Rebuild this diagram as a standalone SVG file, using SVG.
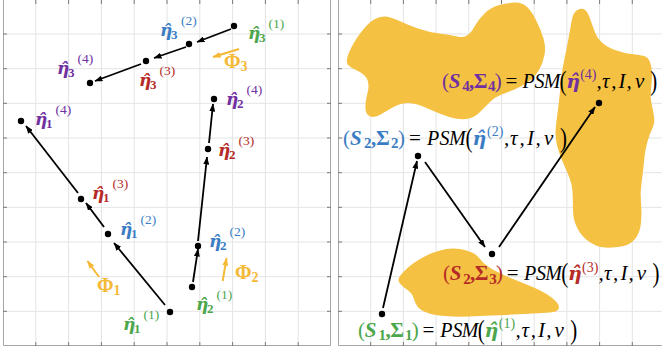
<svg xmlns="http://www.w3.org/2000/svg" width="662" height="351" viewBox="0 0 662 351">
<style>
.g{stroke:#e4e4e4;stroke-width:1;fill:none}
.ax{stroke:#a6a6a6;stroke-width:1;fill:none}
.tk{stroke:#7a7a7a;stroke-width:1;fill:none}
.blob{fill:#F5C142}
.ar{stroke:#000;stroke-width:1.8;fill:none;marker-end:url(#ah)}
.oa{stroke:#F5B936;stroke-width:2;fill:none;marker-end:url(#oh)}
.dot{fill:#000}
text{font-family:"Liberation Serif","DejaVu Serif",serif}
.e{font-family:"DejaVu Serif",serif;font-size:17px;font-weight:bold;font-style:italic}
.re{font-family:"DejaVu Serif",serif;font-size:19px;font-weight:bold;font-style:italic}
.s{font-size:13px;font-weight:bold}
.p{font-size:13.5px}
.c1{fill:#4CA64C}.c2{fill:#3B7DC4}.c3{fill:#B52B27}.c4{fill:#7030A0}.co{fill:#F5B936}.k{fill:#000}
.m{font-size:21px}
.bi{font-weight:bold;font-style:italic}
.b{font-weight:bold}
.it{font-style:italic}
.psm{font-size:20px;font-style:italic}
.ms{font-size:15px;font-weight:bold}
.mp{font-size:14px}
.bp{font-size:21px}
.phi{font-size:20px;font-weight:bold}
.phs{font-size:14px;font-weight:bold}
</style>
<defs>
<marker id="ah" markerWidth="8" markerHeight="6" refX="7.5" refY="3" orient="auto" markerUnits="userSpaceOnUse"><path d="M0,0 L8,3 L0,6 z" fill="#000"/></marker>
<marker id="oh" markerWidth="8" markerHeight="6" refX="7.5" refY="3" orient="auto" markerUnits="userSpaceOnUse"><path d="M0,0 L8,3 L0,6 z" fill="#F5B936"/></marker>
</defs>
<g id="grid">
<path class="g" d="M35.8,0V346M68.6,0V346M101.4,0V346M134.2,0V346M167,0V346M199.8,0V346M232.6,0V346M265.4,0V346M298.2,0V346M3,34H331M3,68.7H331M3,103.3H331M3,138H331M3,172.7H331M3,207.3H331M3,242H331M3,276.7H331M3,311.3H331"/>
<path class="g" d="M370.7,0V346M403.4,0V346M436.1,0V346M468.8,0V346M501.5,0V346M534.2,0V346M566.9,0V346M599.6,0V346M632.3,0V346M338,34H662M338,68.7H662M338,103.3H662M338,138H662M338,172.7H662M338,207.3H662M338,242H662M338,276.7H662M338,311.3H662"/>
<path class="ax" d="M3.5,0V345.5H330.5V0M338.5,0V345.5H662"/>
<path class="tk" d="M3,34h4M3,68.7h4M3,103.3h4M3,138h4M3,172.7h4M3,207.3h4M3,242h4M3,276.7h4M3,311.3h4M331,34h-4M331,68.7h-4M331,103.3h-4M331,138h-4M331,172.7h-4M331,207.3h-4M331,242h-4M331,276.7h-4M331,311.3h-4M35.8,346v-4M68.6,346v-4M101.4,346v-4M134.2,346v-4M167,346v-4M199.8,346v-4M232.6,346v-4M265.4,346v-4M298.2,346v-4M35.8,0v4M68.6,0v4M101.4,0v4M134.2,0v4M167,0v4M199.8,0v4M232.6,0v4M265.4,0v4M298.2,0v4"/>
<path class="tk" d="M338,34h4M338,68.7h4M338,103.3h4M338,138h4M338,172.7h4M338,207.3h4M338,242h4M338,276.7h4M338,311.3h4M370.7,346v-4M403.4,346v-4M436.1,346v-4M468.8,346v-4M501.5,346v-4M534.2,346v-4M566.9,346v-4M599.6,346v-4M632.3,346v-4M370.7,0v4M403.4,0v4M436.1,0v4M468.8,0v4M501.5,0v4M534.2,0v4M566.9,0v4M599.6,0v4M632.3,0v4"/>
</g>
<g id="regions">
<path class="blob" d="M348,65 Q345,62 349,52.5 Q353,43 360.5,33 Q368,23 374,19.5 Q380,16 385.5,16.5 Q391,17 399.5,21 Q408,25 418,28.5 Q428,32 439.5,33.5 Q451,35 457,36.5 Q463,38 467,35.5 Q471,33 474.5,26.5 Q478,20 484.5,13.5 Q491,7 499.5,5 Q508,3 514.5,2.5 Q521,2 526,6 Q531,10 536,20 Q541,30 543.5,38.5 Q546,47 544.5,55 Q543,63 539,70 Q535,77 528,82 Q521,87 514.5,89.5 Q508,92 501.5,94.5 Q495,97 490,102 Q485,107 480,112 Q475,117 469,118.5 Q463,120 455.5,118.5 Q448,117 439.5,113.5 Q431,110 423,106.5 Q415,103 408,103 Q401,103 394.5,106.5 Q388,110 381.5,114 Q375,118 370.5,116.5 Q366,115 365.5,109 Q365,103 367.5,93 Q370,83 366.5,78 Q363,73 357,70.5 Q351,68 348,65 Z"/>
<path class="blob" d="M571.5,21.5 Q573,13 576.5,10.5 Q580,8 583.5,9 Q587,10 590,18.5 Q593,27 595,32.5 Q597,38 602,42.5 Q607,47 615,50 Q623,53 631.5,54 Q640,55 644,56 Q648,57 650,62 Q652,67 652,73.5 Q652,80 651,88.5 Q650,97 651.5,103.5 Q653,110 654,116.5 Q655,123 652.5,128 Q650,133 647.5,141.5 Q645,150 644,161.5 Q643,173 641.5,183 Q640,193 641,203 Q642,213 641,223 Q640,233 635,239 Q630,245 621.5,246.5 Q613,248 605,247.5 Q597,247 589.5,242 Q582,237 577.5,228.5 Q573,220 573,210 Q573,200 572.5,191.5 Q572,183 567.5,173 Q563,163 560,155 Q557,147 556,140 Q555,133 556,125 Q557,117 558.5,105 Q560,93 561,81.5 Q562,70 564.5,58.5 Q567,47 568.5,38.5 Q570,30 571.5,21.5 Z"/>
<path class="blob" d="M400,283.5 Q397,280 400,276 Q403,272 408,267.5 Q413,263 420,259 Q427,255 433.5,252.5 Q440,250 446.5,249 Q453,248 460,249 Q467,250 472,252.5 Q477,255 480,259 Q483,263 488,266.5 Q493,270 500.5,273.5 Q508,277 515.5,280 Q523,283 531.5,286.5 Q540,290 546.5,294 Q553,298 556.5,302 Q560,306 558.5,309 Q557,312 550,312.5 Q543,313 533,313.5 Q523,314 513,314.5 Q503,315 491.5,315.5 Q480,316 468.5,316.5 Q457,317 445,316 Q433,315 426.5,312.5 Q420,310 417.5,306.5 Q415,303 413.5,298 Q412,293 407.5,290 Q403,287 400,283.5 Z"/>
</g>
<g id="connectors">
<line class="ar" x1="231" y1="29" x2="197" y2="42"/>
<line class="ar" x1="186" y1="47" x2="154" y2="58"/>
<line class="ar" x1="141" y1="64" x2="95" y2="81"/>
<line class="ar" x1="209" y1="143" x2="213" y2="104"/>
<line class="ar" x1="198" y1="241" x2="207" y2="157"/>
<line class="ar" x1="193" y1="282" x2="198" y2="249"/>
<line class="ar" x1="165" y1="305" x2="114" y2="243"/>
<line class="ar" x1="104" y1="227" x2="86" y2="203"/>
<line class="ar" x1="78" y1="193" x2="26" y2="126"/>
<line class="ar" x1="383" y1="308" x2="417" y2="161"/>
<line class="ar" x1="425" y1="162" x2="485" y2="247"/>
<line class="ar" x1="499" y1="247" x2="595" y2="107"/>
<line class="oa" x1="239" y1="49" x2="213" y2="57"/>
<line class="oa" x1="99" y1="277" x2="87.5" y2="261"/>
<line class="oa" x1="222.7" y1="281" x2="226.5" y2="258"/>
</g>
<g id="phi-labels">
<text class="co" x="224" y="68"><tspan class="phi">Φ</tspan><tspan class="phs" dy="3">3</tspan></text>
<text class="co" x="97" y="292"><tspan class="phi">Φ</tspan><tspan class="phs" dy="3">1</tspan></text>
<text class="co" x="235" y="279"><tspan class="phi">Φ</tspan><tspan class="phs" dy="3">2</tspan></text>
</g>
<g id="eta3-1"><circle class="dot" cx="234" cy="26" r="3.2"/><text class="c1"><tspan class="e" x="248" y="38.5">η̂</tspan><tspan class="s" x="259" y="41.5">3</tspan><tspan class="p" x="268.5" y="27.5">(1)</tspan></text></g>
<g id="eta3-2"><circle class="dot" cx="189" cy="44" r="3.2"/><text class="c2"><tspan class="e" x="160" y="36">η̂</tspan><tspan class="s" x="171" y="39">3</tspan><tspan class="p" x="181" y="25">(2)</tspan></text></g>
<g id="eta3-3"><circle class="dot" cx="146" cy="61" r="3.2"/><text class="c3"><tspan class="e" x="139" y="86">η̂</tspan><tspan class="s" x="150" y="89">3</tspan><tspan class="p" x="159.5" y="75">(3)</tspan></text></g>
<g id="eta3-4"><circle class="dot" cx="90" cy="83" r="3.2"/><text class="c4"><tspan class="e" x="57" y="73.5">η̂</tspan><tspan class="s" x="68" y="76.5">3</tspan><tspan class="p" x="77.5" y="62.5">(4)</tspan></text></g>
<g id="eta2-4"><circle class="dot" cx="214" cy="99" r="3.2"/><text class="c4"><tspan class="e" x="226" y="105">η̂</tspan><tspan class="s" x="237" y="108">2</tspan><tspan class="p" x="246.5" y="94">(4)</tspan></text></g>
<g id="eta2-3"><circle class="dot" cx="208" cy="149" r="3.2"/><text class="c3"><tspan class="e" x="218" y="156">η̂</tspan><tspan class="s" x="229" y="159">2</tspan><tspan class="p" x="238.5" y="145">(3)</tspan></text></g>
<g id="eta1-4"><circle class="dot" cx="21" cy="121" r="3.2"/><text class="c4"><tspan class="e" x="35" y="125">η̂</tspan><tspan class="s" x="46" y="128">1</tspan><tspan class="p" x="55.5" y="114">(4)</tspan></text></g>
<g id="eta1-3"><circle class="dot" cx="81" cy="199" r="3.2"/><text class="c3"><tspan class="e" x="92" y="198.5">η̂</tspan><tspan class="s" x="103" y="201.5">1</tspan><tspan class="p" x="112.5" y="187.5">(3)</tspan></text></g>
<g id="eta1-2"><circle class="dot" cx="108" cy="234" r="3.2"/><text class="c2"><tspan class="e" x="120" y="235">η̂</tspan><tspan class="s" x="131" y="238">1</tspan><tspan class="p" x="140.5" y="224">(2)</tspan></text></g>
<g id="eta2-2"><circle class="dot" cx="198" cy="246" r="3.2"/><text class="c2"><tspan class="e" x="209" y="247">η̂</tspan><tspan class="s" x="220" y="250">2</tspan><tspan class="p" x="229.5" y="236">(2)</tspan></text></g>
<g id="eta2-1"><circle class="dot" cx="192" cy="287" r="3.2"/><text class="c1"><tspan class="e" x="196" y="310">η̂</tspan><tspan class="s" x="207" y="313">2</tspan><tspan class="p" x="216.5" y="299">(1)</tspan></text></g>
<g id="eta1-1"><circle class="dot" cx="170" cy="312" r="3.2"/><text class="c1"><tspan class="e" x="123" y="330">η̂</tspan><tspan class="s" x="134" y="333">1</tspan><tspan class="p" x="143.5" y="319">(1)</tspan></text></g>
<g id="state-4"><circle class="dot" cx="599" cy="103" r="3.2"/><text class="m"><tspan class="c4" x="442" y="87.5">(</tspan><tspan class="c4 bi" x="448.7" y="87.5">S</tspan><tspan class="c4 ms" x="462.2" y="91">4</tspan><tspan class="c4 b" x="468.9" y="87.5">,</tspan><tspan class="c4 b" x="473.7" y="87.5">Σ</tspan><tspan class="c4 ms" x="488.1" y="91">4</tspan><tspan class="c4" x="494.8" y="87.5">)</tspan><tspan class="k" x="505.4" y="87.5">=</tspan><tspan class="k psm" x="522.6 534.6 543.8" y="87.5">PSM</tspan><tspan class="c4 re" x="566.3" y="87.5">η̂</tspan><tspan class="c4 mp" x="580.2" y="79">(4)</tspan><tspan class="k it" x="596.6 602 611.2 618.4 626.6 635" y="87.5">,τ,I,ν</tspan></text><text class="k bp" transform="translate(559.6,89.5) scale(1,1.3)">(</text><text class="k bp" transform="translate(650.3,89.5) scale(1,1.3)">)</text></g>
<g id="state-2"><circle class="dot" cx="418" cy="156" r="3.2"/><text class="m"><tspan class="c2" x="343" y="144.5">(</tspan><tspan class="c2 bi" x="350" y="144.5">S</tspan><tspan class="c2 ms" x="364" y="148">2</tspan><tspan class="c2 b" x="371" y="144.5">,</tspan><tspan class="c2 b" x="376" y="144.5">Σ</tspan><tspan class="c2 ms" x="391" y="148">2</tspan><tspan class="c2" x="398" y="144.5">)</tspan><tspan class="k" x="409" y="144.5">=</tspan><tspan class="k psm" x="427 439.5 449" y="144.5">PSM</tspan><tspan class="c2 re" x="472.5" y="144.5">η̂</tspan><tspan class="c2 mp" x="487" y="136">(2)</tspan><tspan class="k it" x="504 510 519.5 527 535.5 544" y="144.5">,τ,I,ν</tspan></text><text class="k bp" transform="translate(465.5,146.5) scale(1,1.3)">(</text><text class="k bp" transform="translate(560,146.5) scale(1,1.3)">)</text></g>
<g id="state-3"><circle class="dot" cx="492" cy="254" r="3.2"/><text class="m"><tspan class="c3" x="443" y="280">(</tspan><tspan class="c3 bi" x="449.8" y="280">S</tspan><tspan class="c3 ms" x="463.3" y="283.5">2</tspan><tspan class="c3 b" x="470" y="280">,</tspan><tspan class="c3 b" x="474.8" y="280">Σ</tspan><tspan class="c3 ms" x="489.3" y="283.5">3</tspan><tspan class="c3" x="496.1" y="280">)</tspan><tspan class="k" x="506.7" y="280">=</tspan><tspan class="k psm" x="524.1 536.1 545.3" y="280">PSM</tspan><tspan class="c3 re" x="568" y="280">η̂</tspan><tspan class="c3 mp" x="582" y="271.5">(3)</tspan><tspan class="k it" x="598.4 603.9 613.1 620.4 628.6 636.8" y="280">,τ,I,ν</tspan></text><text class="k bp" transform="translate(561.2,282) scale(1,1.3)">(</text><text class="k bp" transform="translate(652.4,282) scale(1,1.3)">)</text></g>
<g id="state-1"><circle class="dot" cx="382" cy="314" r="3.2"/><text class="m"><tspan class="c1" x="358" y="336.5">(</tspan><tspan class="c1 bi" x="364.8" y="336.5">S</tspan><tspan class="c1 ms" x="378.5" y="340">1</tspan><tspan class="c1 b" x="385.4" y="336.5">,</tspan><tspan class="c1 b" x="390.3" y="336.5">Σ</tspan><tspan class="c1 ms" x="404.9" y="340">1</tspan><tspan class="c1" x="411.8" y="336.5">)</tspan><tspan class="k" x="422.5" y="336.5">=</tspan><tspan class="k psm" x="440.2 452.4 461.7" y="336.5">PSM</tspan><tspan class="c1 re" x="484.6" y="336.5">η̂</tspan><tspan class="c1 mp" x="498.8" y="328">(1)</tspan><tspan class="k it" x="515.5 521.4 530.7 538 546.3 554.6" y="336.5">,τ,I,ν</tspan></text><text class="k bp" transform="translate(477.8,338.5) scale(1,1.3)">(</text><text class="k bp" transform="translate(570.2,338.5) scale(1,1.3)">)</text></g>
</svg>
